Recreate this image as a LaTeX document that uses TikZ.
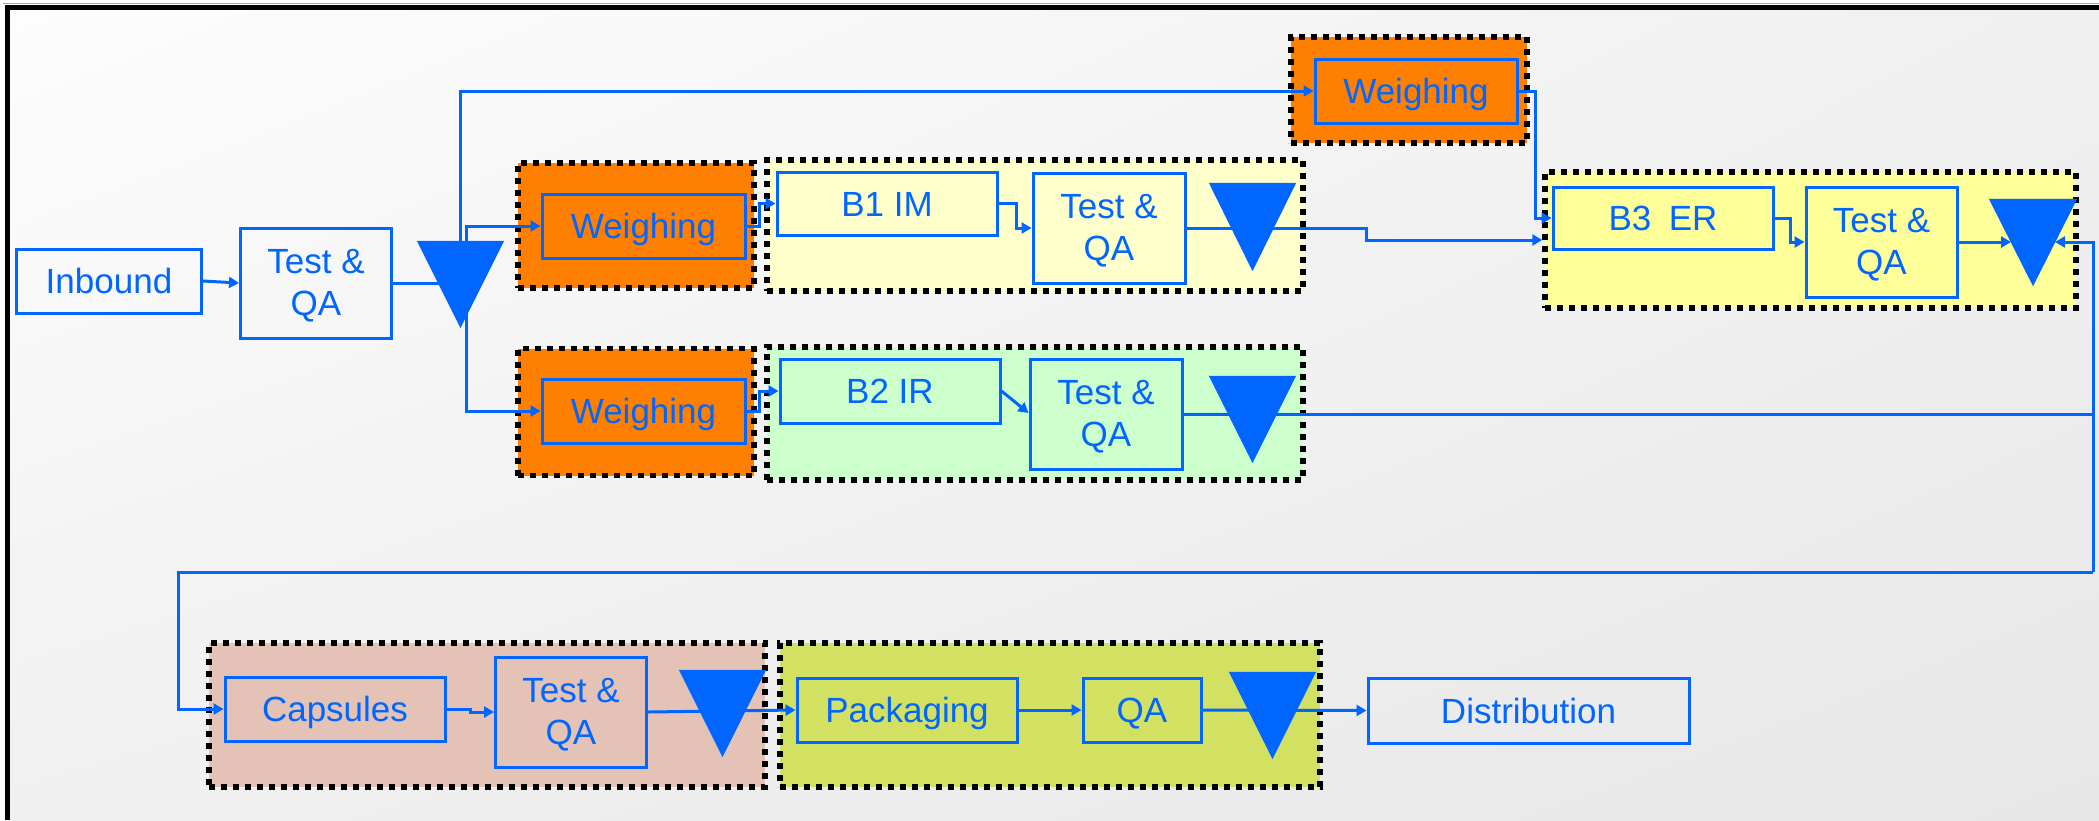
\documentclass[tikz,border=0pt]{standalone}
\usepackage{fontspec}
\setmainfont{Liberation Sans}
\usetikzlibrary{arrows.meta,calc,shadings}

\definecolor{flow}{RGB}{0,102,255}
\definecolor{weigh}{RGB}{255,128,0}
\definecolor{bonepale}{RGB}{255,255,204}
\definecolor{btwogreen}{RGB}{204,255,204}
\definecolor{bthree}{RGB}{255,255,153}
\definecolor{capsfill}{RGB}{228,194,182}
\definecolor{packfill}{RGB}{211,225,98}
\definecolor{bgtop}{RGB}{253,253,253}
\definecolor{bgmid}{RGB}{240,240,240}
\definecolor{bgbot}{RGB}{231,231,231}

\tikzset{
  proc/.style={draw=flow, line width=3pt, text=flow, inner sep=0pt,
    font=\fontsize{35}{42}\selectfont, text height=25pt, text depth=0pt},
  proctwo/.style={proc, align=center, text height=65pt, text depth=0pt},
  panel/.style={draw=black, line width=5.5pt, dash pattern=on 6pt off 6pt, inner sep=0pt},
  stock/.style={inner sep=0pt, minimum width=87pt, minimum height=87pt},
  link/.style={draw=flow, line width=3pt},
  arr/.style={link, -{Triangle[length=10pt,width=11pt]}}
}

\newcommand{\stockmark}[1]{%
  \fill[flow] (#1.north west) -- (#1.north east) -- (#1.south) -- cycle;}

\begin{document}
\begin{tikzpicture}[x=1pt,y=-1pt]
  % page and backdrop
  \useasboundingbox (0,0) rectangle (2099,820);
  \fill[white] (0,0) rectangle (2099,820);
  \shade[upper left=bgtop, upper right=bgmid, lower left=bgmid, lower right=bgbot]
    (7.5,7.5) rectangle (2099,820);
  \draw[black!35, line width=1.5pt] (3,3.5) -- (2099,3.5);
  \draw[black, line width=5pt] (7.5,820) -- (7.5,7.5) -- (2099,7.5);

  % grouping panels
  \node[panel, fill=weigh, minimum width=236pt, minimum height=125pt] (pw1) at (636,225.5) {};
  \node[panel, fill=weigh, minimum width=236pt, minimum height=127pt] (pw2) at (636,412) {};
  \node[panel, fill=weigh, minimum width=236pt, minimum height=106pt] (pw3) at (1409,90) {};
  \node[panel, fill=bonepale, minimum width=536pt, minimum height=131pt] (pb1) at (1035,225.5) {};
  \node[panel, fill=btwogreen, minimum width=536pt, minimum height=133pt] (pb2) at (1035,413.5) {};
  \node[panel, fill=bthree, minimum width=531pt, minimum height=136pt] (pb3) at (1810.5,240) {};
  \node[panel, fill=capsfill, minimum width=556pt, minimum height=144pt] (pcap) at (487,715) {};
  \node[panel, fill=packfill, minimum width=540pt, minimum height=144pt] (ppack) at (1050,715) {};

  % process steps
  \node[proc, minimum width=185pt, minimum height=64pt] (inbound) at (109,281) {Inbound};
  \node[proctwo, minimum width=151pt, minimum height=110pt] (tqa0) at (316,283) {Test \&\\QA};
  \node[proc, minimum width=203pt, minimum height=64pt] (weigh1) at (643.5,226) {Weighing};
  \node[proc, minimum width=203pt, minimum height=64pt] (weigh2) at (643.5,411) {Weighing};
  \node[proc, minimum width=202pt, minimum height=64pt] (weigh3) at (1416,91) {Weighing};
  \node[proc, minimum width=220pt, minimum height=63pt] (b1im) at (887,203.5) {B1 IM};
  \node[proctwo, minimum width=152pt, minimum height=110pt] (tqa1) at (1109,228) {Test \&\\QA};
  \node[proc, minimum width=220pt, minimum height=64pt] (b2ir) at (890,391) {B2 IR};
  \node[proctwo, minimum width=152pt, minimum height=110pt] (tqa2) at (1106,414) {Test \&\\QA};
  \node[proc, minimum width=220pt, minimum height=62pt] (b3er) at (1663,218) {B3\hspace{0.5em}ER};
  \node[proctwo, minimum width=151pt, minimum height=110pt] (tqa3) at (1881.5,242) {Test \&\\QA};
  \node[proc, minimum width=220pt, minimum height=64pt] (caps) at (335,709) {Capsules};
  \node[proctwo, minimum width=151pt, minimum height=110pt] (tqa4) at (571,712) {Test \&\\QA};
  \node[proc, minimum width=220pt, minimum height=64pt] (packaging) at (907,710) {Packaging};
  \node[proc, minimum width=118pt, minimum height=64pt] (qa5) at (1142,710) {QA};
  \node[proc, minimum width=321pt, minimum height=65pt] (distribution) at (1528.5,710.5) {Distribution};

  % stock points (inverted triangles, filled after the connectors)
  \node[stock] (tri0) at (460.5,284.5) {};
  \node[stock, minimum height=88pt] (tri1) at (1252.5,227) {};
  \node[stock] (tri2) at (1252.5,419.5) {};
  \node[stock, minimum width=88pt] (tri3) at (2033,242.5) {};
  \node[stock] (tri4) at (722.5,713.5) {};
  \node[stock] (tri5) at (1272.5,715.5) {};

  % return loop corners
  \coordinate (ret) at (2093,572);
  \coordinate (lft) at (178,572);

  % connectors
  \draw[arr] (inbound.east) -- (tqa0.west);
  \draw[link] (tqa0.east) -- (tqa0.east -| tri0.center);
  \draw[arr] (tri0.north) |- (weigh3.west);
  \draw[arr] ($(tri0.north)+(6,0)$) |- (weigh1.west);
  \draw[arr] ($(tri0.north)+(6,0)$) |- (weigh2.west);
  \draw[arr] (weigh1.east) -- ++(13,0) |- (b1im.west);
  \draw[arr] (weigh2.east) -- ++(13,0) |- (b2ir.west);
  \draw[arr] (b1im.east) -- ++(18,0) |- (tqa1.west);
  \draw[arr] (b2ir.east) -- ($(tqa2.west)+(0,-1)$);
  \draw[arr] (tqa1.east) -- ++(180,0) |- (pb3.west);
  \draw[arr] (weigh3.east) -- ++(17,0) |- (b3er.west);
  \draw[arr] (b3er.east) -- ++(16,0) |- (tqa3.west);
  \draw[arr] (tqa3.east) -- ($(tri3.center)+(-22,-0.5)$);
  \draw[link] (tqa2.east) -- (tqa2.east -| ret);
  \draw[arr] (ret) -- (ret |- tqa3.east) -- ($(tri3.center)+(22,-0.5)$);
  \draw[arr] (ret) -- (lft) |- (caps.west);
  \draw[arr] (caps.east) -- ++(24,0) |- (tqa4.west);
  \draw[arr] (tqa4.east) -- (packaging.west);
  \draw[arr] (packaging.east) -- (qa5.west);
  \draw[arr] (qa5.east) -- (distribution.west);

  % inverted triangles on top of the lines
  \stockmark{tri0}
  \stockmark{tri1}
  \stockmark{tri2}
  \stockmark{tri3}
  \stockmark{tri4}
  \stockmark{tri5}
\end{tikzpicture}
\end{document}
